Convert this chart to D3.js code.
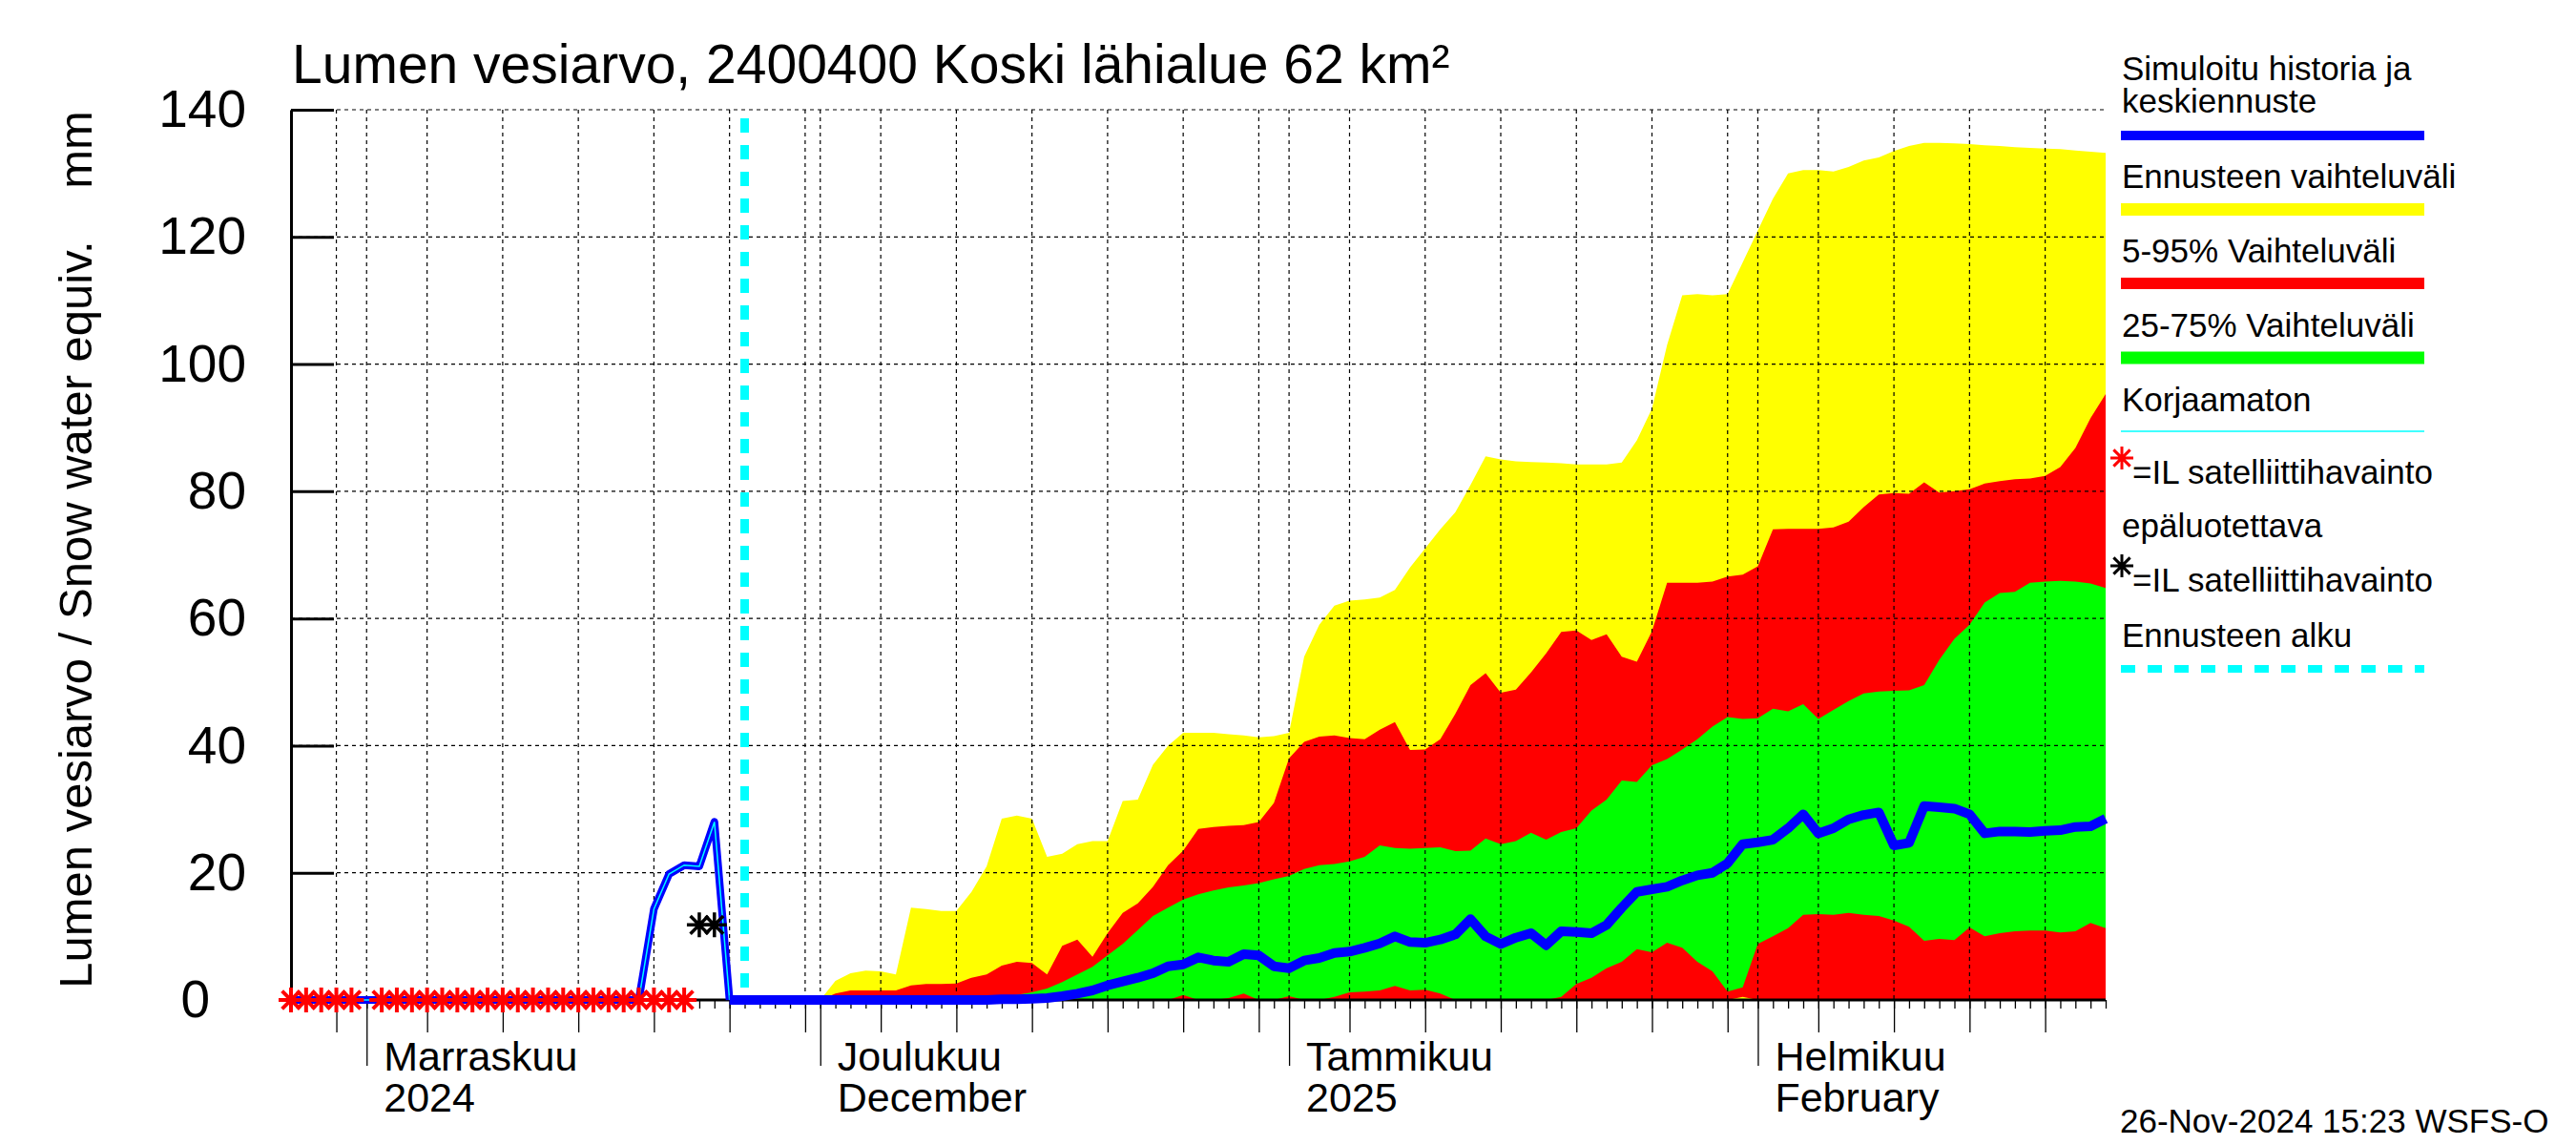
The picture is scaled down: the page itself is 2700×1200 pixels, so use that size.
<!DOCTYPE html>
<html>
<head>
<meta charset="utf-8">
<script src="https://cdn.jsdelivr.net/npm/d3@7"></script>
<style>
body { margin: 0; background: #ffffff; }
</style>
</head>
<body>
<script>
// ---- data ----
const histStart = "2024-10-27";
// simulated history (and the uncorrected line that runs inside it), Oct 27 .. Nov 25
const histSwe = [0, 0, 0, 0, 0, 0, 0, 0, 0, 0,
                 0, 0, 0, 0, 0, 0, 0, 0, 0, 0,
                 0, 0, 0, 0, 14.3, 19.8, 21.2, 21, 28, 0];

// satellite observations
const satRedDates = ["2024-10-27", "2024-10-28", "2024-10-29", "2024-10-30", "2024-10-31",
                     "2024-11-02", "2024-11-03", "2024-11-04", "2024-11-05", "2024-11-06",
                     "2024-11-07", "2024-11-08", "2024-11-09", "2024-11-10", "2024-11-11",
                     "2024-11-12", "2024-11-13", "2024-11-14", "2024-11-15", "2024-11-16",
                     "2024-11-17", "2024-11-18", "2024-11-19", "2024-11-20", "2024-11-21",
                     "2024-11-22"];
const satRedSwe = [0, 0, 0, 0, 0, 0, 0, 0, 0, 0, 0, 0, 0, 0, 0, 0, 0, 0, 0, 0, 0, 0, 0, 0, 0, 0];
const satBlackDates = ["2024-11-23", "2024-11-24"];
const satBlackSwe = [11.8, 11.8];

// forecast, daily from Nov 25 .. Feb 24
const fcStart = "2024-11-25";
const fcMin = [0, 0, 0, 0, 0, 0,
  0, 0, 0, 0, 0, 0, 0, 0, 0, 0,
  0, 0, 0, 0, 0, 0, 0, 0, 0, 0,
  0, 0, 0, 0, 0, 0, 0, 0, 0, 0, 0,
  0, 0, 0, 0, 0, 0, 0, 0, 0, 0,
  0, 0, 0, 0, 0, 0, 0, 0, 0, 0,
  0, 0, 0, 0, 0, 0, 0, 0, 0, 0, 0,
  0, 0, 0, 0, 0, 0, 0, 0, 0, 0,
  0, 0, 0, 0, 0, 0, 0, 0, 0, 0,
  0, 0, 0, 0];
const fcP5 = [0, 0, 0, 0, 0, 0,
  0, 0, 0, 0, 0, 0, 0, 0, 0, 0,
  0, 0, 0, 0, 0, 0, 0, 0, 0, 0,
  0, 0, 0, 0, 0, 0, 0, 0, 0, 0, 0,
  0, 0, 0, 0, 0, 0, 0, 0, 0, 0,
  0, 0, 0, 0, 0, 0, 0, 0, 0, 0,
  0, 0, 0, 0, 0, 0, 0, 0, 0, 0, 0.5,
  0, 0, 0, 0, 0, 0, 0, 0, 0, 0,
  0, 0, 0, 0, 0, 0, 0, 0, 0, 0,
  0, 0, 0, 0];
const fcP25 = [0, 0, 0, 0, 0, 0,
  0, 0, 0, 0, 0, 0, 0, 0, 0, 0,
  0, 0, 0, 0, 0, 0, 0, 0, 0, 0,
  0, 0, 0, 0, 0.8, 0, 0, 0.3, 1, 0, 0,
  0.6, 0, 0, 0.5, 1.2, 1.3, 1.5, 2.2, 1.5, 1.6,
  1.0, 0, 0, 0, 0, 0, 0, 0, 0.5, 2.5,
  3.5, 5, 6, 8, 7.5, 9, 8.2, 6, 4.5, 1.3, 2,
  8.8, 10, 11.3, 13.4, 13.5, 13.4, 13.7, 13.4, 13.2, 12.5,
  11.5, 9.3, 9.6, 9.4, 11.4, 10, 10.5, 10.8, 10.9, 10.9,
  10.6, 10.8, 12.1, 11.3];
const fcMedian = [0, 0, 0, 0, 0, 0,
  0, 0, 0, 0, 0, 0, 0, 0, 0, 0,
  0, 0, 0.1, 0.1, 0.2, 0.3, 0.6, 1.0, 1.5, 2.3,
  2.9, 3.5, 4.2, 5.3, 5.6, 6.7, 6.2, 6.0, 7.2, 7.0, 5.3,
  5.0, 6.2, 6.6, 7.4, 7.6, 8.2, 8.9, 10.0, 9.1, 9.0,
  9.5, 10.3, 12.7, 10, 8.8, 9.8, 10.5, 8.6, 10.8, 10.7,
  10.5, 11.8, 14.5, 17.0, 17.4, 17.8, 18.8, 19.6, 20.0, 21.5, 24.5,
  24.8, 25.2, 27, 29.2, 26.2, 27, 28.4, 29.1, 29.5, 24.3,
  24.7, 30.5, 30.3, 30.1, 29.2, 26.2, 26.5, 26.5, 26.4, 26.6,
  26.7, 27.2, 27.3, 28.5];
const fcP75 = [0, 0, 0, 0, 0, 0,
  0, 0, 0, 0, 0, 0, 0, 0, 0, 0,
  0.3, 0.5, 0.6, 0.8, 1.2, 1.8, 2.8, 4, 5.2, 7,
  8.8, 11, 13.2, 14.5, 15.8, 16.6, 17.2, 17.7, 18, 18.4, 19,
  19.5, 20.6, 21.2, 21.4, 21.8, 22.5, 24.3, 23.9, 23.8, 23.9,
  24, 23.4, 23.5, 25.4, 24.5, 25, 26.3, 25.2, 26.4, 27,
  29.8, 31.5, 34.5, 34.3, 36.9, 37.9, 39.4, 41, 43, 44.5, 44.2,
  44.3, 45.8, 45.4, 46.5, 44.2, 45.6, 47, 48.2, 48.5, 48.6,
  48.7, 49.5, 53.5, 56.8, 59, 62.5, 64, 64.2, 65.6, 65.8,
  65.9, 65.8, 65.5, 64.8];
const fcP95 = [0, 0, 0, 0, 0, 0,
  0, 1, 1.5, 1.5, 1.5, 1.5, 2.3, 2.5, 2.5, 2.6,
  3.5, 4, 5.4, 6, 5.8, 4, 8.5, 9.5, 6.8, 10.5,
  13.7, 15.2, 17.8, 21.2, 23.5, 26.9, 27.2, 27.4, 27.5, 28, 31,
  38, 40.6, 41.4, 41.6, 41.2, 41, 42.5, 43.7, 39.3, 39.4,
  41, 45, 49.5, 51.4, 48.3, 48.8, 51.5, 54.5, 57.9, 58.1,
  56.6, 57.5, 54, 53.2, 58, 65.6, 65.6, 65.6, 65.8, 66.6, 66.9,
  68.2, 74, 74.1, 74.1, 74.1, 74.3, 75.2, 77.5, 79.5, 79.7,
  79.6, 81.4, 79.8, 80, 80.3, 81.2, 81.6, 81.9, 82, 82.4,
  83.8, 86.8, 91.5, 95.3];
const fcMax = [0, 0, 0, 0, 0, 0,
  0, 3, 4.2, 4.6, 4.5, 4, 14.5, 14.3, 14, 14,
  17, 21, 28.5, 29, 28.5, 22.5, 23, 24.5, 25, 25,
  31.3, 31.5, 37, 40, 42, 42, 42, 41.8, 41.6, 41.3, 41.5,
  42, 54, 59, 62, 62.8, 63, 63.3, 64.5, 68, 71,
  74, 76.7, 81, 85.5, 85, 84.7, 84.6, 84.5, 84.4, 84.2,
  84.2, 84.2, 84.5, 88, 93, 103, 110.8, 111, 110.8, 111, 116,
  121, 126, 130, 130.5, 130.5, 130.3, 131, 132, 132.5, 133.5,
  134.3, 134.8, 134.8, 134.7, 134.6, 134.4, 134.3, 134.1, 134, 133.9,
  133.8, 133.6, 133.4, 133.2];

const forecastBegin = "2024-11-26";
const yTicks = [0, 20, 40, 60, 80, 100, 120, 140];
const monthLabels = [
  { date: "2024-11-01", line1: "Marraskuu", line2: "2024" },
  { date: "2024-12-01", line1: "Joulukuu", line2: "December" },
  { date: "2025-01-01", line1: "Tammikuu", line2: "2025" },
  { date: "2025-02-01", line1: "Helmikuu", line2: "February" }
];
const titleText = "Lumen vesiarvo, 2400400 Koski lähialue 62 km²";
const yLabelText = "Lumen vesiarvo / Snow water equiv.    mm";
const stampText = "26-Nov-2024 15:23 WSFS-O";

// ---- setup ----
const width = 2700, height = 1200;
const font = "'Liberation Sans', Arial, Helvetica, sans-serif";
const parse = d3.timeParse("%Y-%m-%d");

const x = d3.scaleTime()
  .domain([parse("2024-10-27"), parse("2025-02-24")])
  .range([305, 2207]);
const y = d3.scaleLinear().domain([0, 140]).range([1048, 115]);

const svg = d3.select("body").append("svg")
  .attr("width", width)
  .attr("height", height)
  .attr("font-family", font);

svg.append("rect").attr("width", width).attr("height", height).attr("fill", "#ffffff");

// forecast rows
const fc = fcMedian.map((v, i) => ({
  date: d3.timeDay.offset(parse(fcStart), i),
  min: fcMin[i], p5: fcP5[i], p25: fcP25[i], med: v,
  p75: fcP75[i], p95: fcP95[i], max: fcMax[i]
}));
const hist = histSwe.map((v, i) => ({ date: d3.timeDay.offset(parse(histStart), i), v: v }));

const band = (lo, hi) => d3.area()
  .x(d => x(d.date))
  .y0(d => y(d[lo]))
  .y1(d => y(d[hi]));

// bands
svg.append("path").datum(fc).attr("fill", "#ffff00").attr("d", band("min", "max"));
svg.append("path").datum(fc).attr("fill", "#ff0000").attr("d", band("p5", "p95"));
svg.append("path").datum(fc).attr("fill", "#00ff00").attr("d", band("p25", "p75"));

// grid
const allDays = d3.timeDay.range(x.domain()[0], d3.timeDay.offset(x.domain()[1], 1));
const fiveDays = allDays.filter(d => [5, 10, 15, 20, 25, 30].includes(d.getDate()));
const monthStarts = allDays.filter(d => d.getDate() === 1);
const gridDays = fiveDays.concat(monthStarts);

svg.append("g")
  .selectAll("line")
  .data(gridDays)
  .join("line")
  .attr("x1", d => x(d)).attr("x2", d => x(d))
  .attr("y1", y(140)).attr("y2", y(0))
  .attr("stroke", "#000").attr("stroke-width", 1.2)
  .attr("stroke-dasharray", "4,4");

svg.append("g")
  .selectAll("line")
  .data(yTicks.filter(v => v > 0))
  .join("line")
  .attr("x1", x.range()[0]).attr("x2", x.range()[1])
  .attr("y1", d => y(d)).attr("y2", d => y(d))
  .attr("stroke", "#000").attr("stroke-width", 1.2)
  .attr("stroke-dasharray", "4,4");

// x axis ticks (day / five day / month)
const tickAxis = (vals, size) => {
  const g = svg.append("g")
    .attr("transform", `translate(0,${y(0)})`)
    .call(d3.axisBottom(x).tickValues(vals).tickSize(size).tickFormat(""));
  g.select(".domain").remove();
  g.selectAll(".tick line").attr("stroke", "#000").attr("stroke-width", 1.3);
};
tickAxis(allDays, 9);
tickAxis(fiveDays, 34);
tickAxis(monthStarts, 69);

svg.append("line")
  .attr("x1", x.range()[0]).attr("x2", x.range()[1])
  .attr("y1", y(0)).attr("y2", y(0))
  .attr("stroke", "#000").attr("stroke-width", 3);

// y axis
const yAxis = svg.append("g")
  .attr("transform", `translate(${x.range()[0]},0)`)
  .call(d3.axisLeft(y).tickValues(yTicks).tickSizeInner(-45).tickSizeOuter(0).tickPadding(47));
yAxis.select(".domain").attr("stroke", "#000").attr("stroke-width", 3);
yAxis.selectAll(".tick line").attr("stroke", "#000").attr("stroke-width", 3);
yAxis.selectAll(".tick text")
  .attr("font-family", font).attr("font-size", 55).attr("fill", "#000");
// the zero label sits further left in the original
yAxis.selectAll(".tick text").filter(d => d === 0).attr("x", -85);

// month labels
monthLabels.forEach(m => {
  const t = svg.append("text")
    .attr("x", x(parse(m.date)) + 18)
    .attr("y", 1122)
    .attr("font-size", 43)
    .attr("fill", "#000");
  t.append("tspan").attr("x", x(parse(m.date)) + 18).text(m.line1);
  t.append("tspan").attr("x", x(parse(m.date)) + 18).attr("dy", 43).text(m.line2);
});

// history line + uncorrected line inside it
const histLine = d3.line().x(d => x(d.date)).y(d => y(d.v));
svg.append("path").datum(hist)
  .attr("fill", "none").attr("stroke", "#0000ff").attr("stroke-width", 8)
  .attr("stroke-linejoin", "round").attr("d", histLine);
svg.append("path").datum(hist)
  .attr("fill", "none").attr("stroke", "#00ffff").attr("stroke-width", 1.5)
  .attr("d", histLine);

// forecast median
svg.append("path").datum(fc)
  .attr("fill", "none").attr("stroke", "#0000ff").attr("stroke-width", 10)
  .attr("stroke-linejoin", "round")
  .attr("d", d3.line().x(d => x(d.date)).y(d => y(d.med)));

// forecast start
svg.append("line")
  .attr("x1", x(parse(forecastBegin))).attr("x2", x(parse(forecastBegin)))
  .attr("y1", 124).attr("y2", y(0))
  .attr("stroke", "#00ffff").attr("stroke-width", 9)
  .attr("stroke-dasharray", "15,13");

// asterisk markers
const star = r => {
  const a = r * 0.72;
  return `M${-r},0H${r}M0,${-r}V${r}M${-a},${-a}L${a},${a}M${-a},${a}L${a},${-a}`;
};
svg.append("g").selectAll("path")
  .data(satRedDates.map((d, i) => ({ date: parse(d), v: satRedSwe[i] })))
  .join("path")
  .attr("transform", d => `translate(${x(d.date)},${y(d.v)})`)
  .attr("d", star(13))
  .attr("stroke", "#ff0000").attr("stroke-width", 4).attr("fill", "none");
svg.append("g").selectAll("path")
  .data(satBlackDates.map((d, i) => ({ date: parse(d), v: satBlackSwe[i] })))
  .join("path")
  .attr("transform", d => `translate(${x(d.date)},${y(d.v)})`)
  .attr("d", star(13))
  .attr("stroke", "#000").attr("stroke-width", 3.5).attr("fill", "none");

// title, axis label, stamp
svg.append("text").attr("x", 306).attr("y", 87)
  .attr("font-size", 57).attr("fill", "#000").text(titleText);

svg.append("text")
  .attr("transform", `translate(96,576) rotate(-90)`)
  .attr("text-anchor", "middle")
  .attr("font-size", 49).attr("fill", "#000")
  .attr("xml:space", "preserve").style("white-space", "pre")
  .text(yLabelText);

svg.append("text").attr("x", 2222).attr("y", 1187)
  .attr("font-size", 35).attr("fill", "#000").text(stampText);

// legend
const lx = 2224, lx2 = 2541;
const legend = svg.append("g").attr("font-size", 35).attr("fill", "#000");
const ltext = (t, yy, xx) => legend.append("text").attr("x", xx || lx).attr("y", yy).text(t);
const lline = (yy, color, w, dash) => {
  const l = legend.append("line").attr("x1", lx - 1).attr("x2", lx2)
    .attr("y1", yy).attr("y2", yy).attr("stroke", color).attr("stroke-width", w);
  if (dash) l.attr("stroke-dasharray", dash);
};
ltext("Simuloitu historia ja", 84);
ltext("keskiennuste", 118);
lline(142, "#0000ff", 10);
ltext("Ennusteen vaihteluväli", 197);
lline(219.5, "#ffff00", 13);
ltext("5-95% Vaihteluväli", 275);
lline(297, "#ff0000", 12);
ltext("25-75% Vaihteluväli", 353);
lline(375, "#00ff00", 13);
ltext("Korjaamaton", 431);
lline(452, "#00ffff", 1.5);
legend.append("path").attr("transform", "translate(2224,480)").attr("d", star(12))
  .attr("stroke", "#ff0000").attr("stroke-width", 3).attr("fill", "none");
ltext("=IL satelliittihavainto", 507, 2235);
ltext("epäluotettava", 563);
legend.append("path").attr("transform", "translate(2224,593)").attr("d", star(12))
  .attr("stroke", "#000").attr("stroke-width", 3).attr("fill", "none");
ltext("=IL satelliittihavainto", 620, 2235);
ltext("Ennusteen alku", 678);
lline(701, "#00ffff", 8, "15,13");
</script>
</body>
</html>
